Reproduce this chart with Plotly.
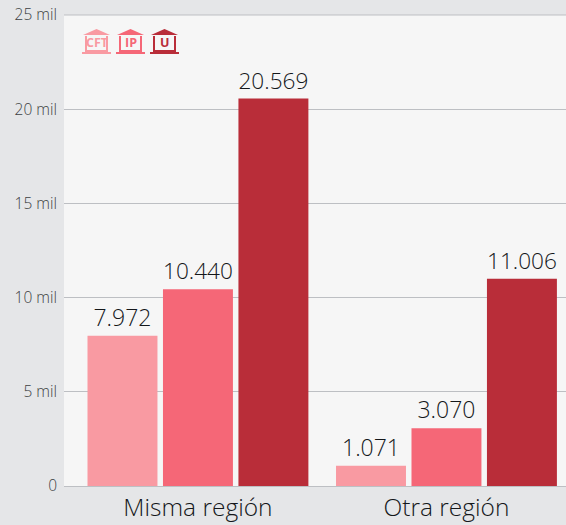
import plotly.graph_objects as go

categories = ["Misma región", "Otra región"]
series_names = ["CFT", "IP", "U"]
cft_values = [7972, 1071]
ip_values = [10440, 3070]
u_values = [20569, 11006]
colors = ["#F99AA2", "#F56777", "#B92D39"]
tick_vals = [0, 5000, 10000, 15000, 20000, 25000]
tick_text = ["0", "5 mil", "10 mil", "15 mil", "20 mil", "25 mil"]

W, H = 566, 525
ML, MR, MT, MB = 64, 0, 15, 39
FONT = "Open Sans"
LIGHT = "Open Sans"


def fmt(v):
    return f"{v:,}".replace(",", ".")


fig = go.Figure()
for name, vals, col in zip(series_names, [cft_values, ip_values, u_values], colors):
    fig.add_bar(
        name=name, x=categories, y=vals, marker=dict(color=col, line=dict(width=0)),
        text=[fmt(v) for v in vals], textposition="outside", cliponaxis=False,
        textfont=dict(family=LIGHT, size=23, color="#14171a", weight=300),
    )


def px(x):
    return (x - ML) / (W - ML - MR)


def py(y):
    return 1 - (y - MT) / (H - MT - MB)


def P(pts):
    return "M" + " L".join(f"{px(a):.5f},{py(b):.5f}" for a, b in pts) + " Z"


shapes, annos = [], []
shapes.append(dict(type="line", xref="paper", yref="paper", x0=0, x1=1, y0=1, y1=1,
                   line=dict(color="#BDBFC3", width=1), layer="below"))
for x0, col, label in zip([82, 116, 150], colors, series_names):
    parts = [
        [(x0 + 1, 35), (x0 + 14.5, 29), (x0 + 28, 35)],              # roof
        [(x0 + 3, 50), (x0 + 26, 50), (x0 + 26, 52), (x0 + 3, 52)],
        [(x0, 52), (x0 + 29, 52), (x0 + 29, 54), (x0, 54)],          # base
        [(x0 + 3, 36), (x0 + 5, 36), (x0 + 5, 50), (x0 + 3, 50)],
        [(x0 + 24, 36), (x0 + 26, 36), (x0 + 26, 50), (x0 + 24, 50)],
    ]
    for p in parts:
        shapes.append(dict(type="path", xref="paper", yref="paper", path=P(p),
                           fillcolor=col, line=dict(width=0), layer="above"))
    annos.append(dict(xref="paper", yref="paper", x=px(x0 + 14.5), y=py(43), text=f"<b>{label}</b>",
                      showarrow=False, xanchor="center", yanchor="middle",
                      font=dict(family=FONT, size=12.5, color=col)))

fig.update_layout(
    width=W, height=H, autosize=False,
    margin=dict(l=ML, r=MR, t=MT, b=MB, pad=0),
    paper_bgcolor="#E5E6E8", plot_bgcolor="#F6F6F6",
    barmode="group", bargap=0.089, bargroupgap=0.073,
    showlegend=False, shapes=shapes, annotations=annos,
    font=dict(family=FONT),
    xaxis=dict(type="category", range=[-0.539, 1.481], showgrid=False, ticks="",
               showline=True, linecolor="#BDBFC3", linewidth=1,
               tickfont=dict(family=LIGHT, size=24.5, color="#14171a", weight=300), zeroline=False),
    yaxis=dict(range=[0, 25000], tickvals=tick_vals, ticktext=tick_text, ticks="",
               showgrid=True, gridcolor="#BDBFC3", gridwidth=1, zeroline=False,
               tickfont=dict(family=LIGHT, size=15.5, color="#3c3f42", weight=300), ticklabelstandoff=6),
)
fig.write_html("out.html", config={"displayModeBar": False},
               post_script="document.body.style.margin='0';document.body.style.overflow='hidden';")
